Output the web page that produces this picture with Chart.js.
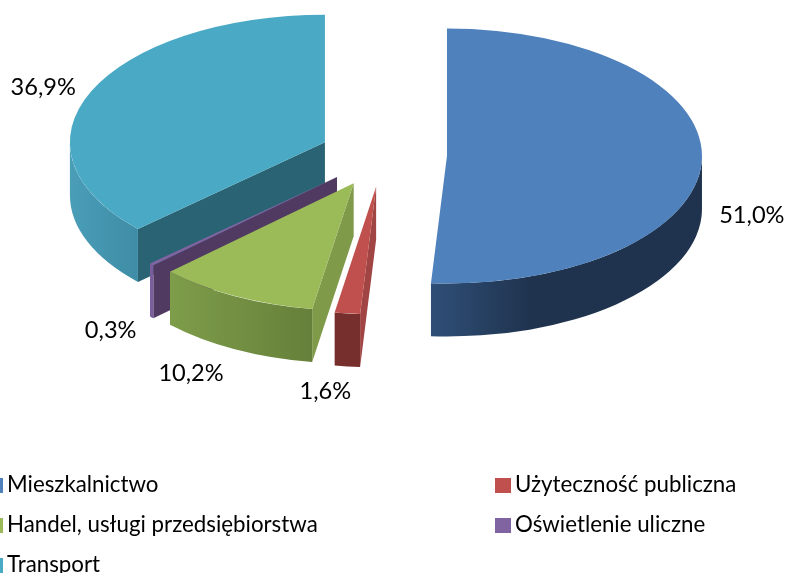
<!DOCTYPE html>
<html>
<head>
<meta charset="utf-8">
<style>
  html, body { margin: 0; padding: 0; background: #fff; overflow: hidden; }
  #wrap { width: 787px; height: 573px; }
</style>
<script src="https://cdn.jsdelivr.net/npm/chart.js@4/dist/chart.umd.js"></script>
</head>
<body>
<div id="wrap"><canvas id="energy-chart"></canvas></div>
<script>
const categories = ['Mieszkalnictwo', 'Użyteczność publiczna', 'Handel, usługi przedsiębiorstwa', 'Oświetlenie uliczne', 'Transport'];
const shares = [51.0, 1.6, 10.2, 0.3, 36.9];

const topColors = ['#4f81bd', '#c0504d', '#9bbb59', '#8064a2', '#4aa9c4'];
const faceColors = ['#1f334e', '#a04543', '#7f9b4a', '#503a62', '#2a6474'];
const wallStops = [
    [[0, '#2f4f77'], [0.37, '#1f334e'], [1, '#1f334e']],
    [[0, '#772f2d'], [1, '#772f2d']],
    [[0, '#7e9d4a'], [1, '#65803a']],
    [[0, '#7a5e9c'], [1, '#7a5e9c']],
    [[0, '#4a9eb8'], [1, '#3f8ca6']]
];
// label centre relative to the middle of the slice rim
const labelNudges = [[50, 55], [-22, 78], [-44, 77], [-41, 66], [-48, -4]];
// back slices first so the green top covers the purple cut face
const drawOrder = [4, 3, 2, 1, 0];

const TILT = 0.5;
const DEPTH = 53;
const EXPLODE = 63.7;
const LABEL_FONT = '23.6px Lato';
const LEGEND_FONT = '22.3px Lato';

const pie3d = {
    id: 'pie3d',
    beforeDatasetDraw(chart) {
        const ctx = chart.ctx;
        const arcs = chart.getDatasetMeta(0).data;
        drawOrder.forEach(i => {
            const arc = arcs[i];
            const mid = (arc.startAngle + arc.endAngle) / 2;
            const cx = arc.x + Math.cos(mid) * EXPLODE;
            const cy = arc.y + Math.sin(mid) * EXPLODE * TILT;
            drawFaces(ctx, arc, i, cx, cy);
            drawWall(ctx, arc, i, cx, cy);

            // top of the slice is the library's own arc, squashed
            ctx.save();
            ctx.translate(cx, cy);
            ctx.scale(1, TILT);
            ctx.translate(-arc.x, -arc.y);
            arc.draw(ctx);
            ctx.restore();
        });
        return false;
    },
    afterDraw(chart) {
        const ctx = chart.ctx;
        const arcs = chart.getDatasetMeta(0).data;
        ctx.save();
        ctx.fillStyle = '#000';
        ctx.textBaseline = 'middle';

        ctx.font = LABEL_FONT;
        ctx.textAlign = 'center';
        arcs.forEach((arc, i) => {
            const mid = (arc.startAngle + arc.endAngle) / 2;
            const r = arc.outerRadius;
            const x = arc.x + Math.cos(mid) * (EXPLODE + r);
            const y = arc.y + Math.sin(mid) * (EXPLODE + r) * TILT;
            const text = shares[i].toFixed(1).replace('.', ',') + '%';
            ctx.fillText(text, x + labelNudges[i][0], y + labelNudges[i][1]);
        });

        // two column legend, left column runs off the page like the original
        ctx.font = LEGEND_FONT;
        ctx.textAlign = 'left';
        categories.forEach((name, i) => {
            const col = i % 2 === 0 ? -13 : 495;
            const row = 485 + 40 * Math.floor(i / 2);
            ctx.fillStyle = topColors[i];
            ctx.fillRect(col, row - 7, 16, 15);
            ctx.fillStyle = '#000';
            ctx.fillText(name, col + 20, row);
        });
        ctx.restore();
    }
};

function drawFaces(ctx, arc, i, cx, cy) {
    const r = arc.outerRadius;
    // a cut face shows only when it turns towards the viewer
    const angles = [];
    if (-Math.cos(arc.startAngle) > 1e-6) angles.push(arc.startAngle);
    if (Math.cos(arc.endAngle) > 1e-6) angles.push(arc.endAngle);
    angles.forEach(a => {
        const rx = cx + Math.cos(a) * r;
        const ry = cy + Math.sin(a) * r * TILT;
        ctx.beginPath();
        ctx.moveTo(cx, cy);
        ctx.lineTo(rx, ry);
        ctx.lineTo(rx, ry + DEPTH);
        ctx.lineTo(cx, cy + DEPTH);
        ctx.closePath();
        ctx.fillStyle = faceColors[i];
        ctx.fill();
    });
}

function drawWall(ctx, arc, i, cx, cy) {
    const r = arc.outerRadius;
    // only the front half of the rim is visible
    const from = Math.max(arc.startAngle, 0);
    const to = Math.min(arc.endAngle, Math.PI);
    if (to <= from) return;

    const xa = cx + Math.cos(from) * r;
    const xb = cx + Math.cos(to) * r;
    const grad = ctx.createLinearGradient(Math.min(xa, xb), 0, Math.max(xa, xb), 0);
    // stops run left to right on the page
    wallStops[i].forEach(([pos, color]) => grad.addColorStop(pos, color));

    ctx.beginPath();
    ctx.ellipse(cx, cy, r, r * TILT, 0, from, to);
    ctx.ellipse(cx, cy + DEPTH, r, r * TILT, 0, to, from, true);
    ctx.closePath();
    ctx.fillStyle = grad;
    ctx.fill();
}

new Chart(document.getElementById('energy-chart').getContext('2d'), {
    type: 'pie',
    data: {
        labels: categories,
        datasets: [{
            data: shares,
            backgroundColor: topColors,
            borderWidth: 0
        }]
    },
    options: {
        responsive: true,
        maintainAspectRatio: false,
        animation: false,
        radius: 255,
        // puts the centre of the unexploded pie where the slices spread from
        layout: { padding: { right: 20.4, bottom: 263 } },
        plugins: {
            legend: { display: false },
            tooltip: { enabled: false }
        },
        events: []
    },
    plugins: [pie3d]
});
</script>
</body>
</html>
